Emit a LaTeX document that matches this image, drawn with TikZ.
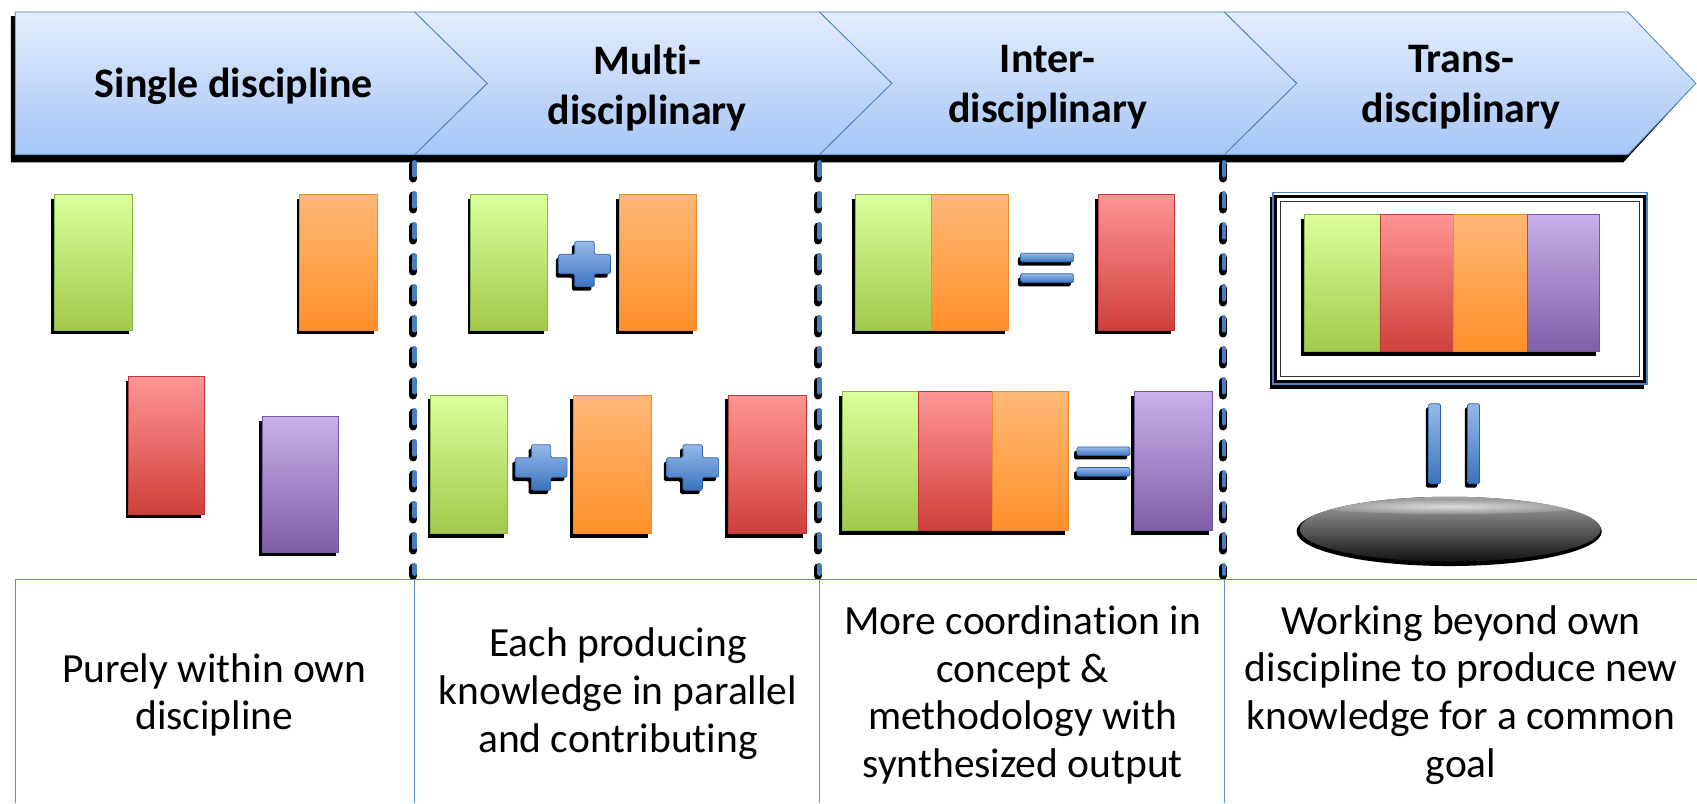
\documentclass[tikz,border=0pt]{standalone}
\usepackage{fontspec}
\setmainfont{Carlito}[Ligatures=NoCommon]
\definecolor{greenT}{HTML}{DAFF9A}\definecolor{greenB}{HTML}{A2C84C}\definecolor{greenD}{HTML}{8DB544}
\definecolor{orangeT}{HTML}{FFB877}\definecolor{orangeB}{HTML}{FF9029}\definecolor{orangeD}{HTML}{F08A2A}
\definecolor{redT}{HTML}{FF9595}\definecolor{redB}{HTML}{CF3F3B}\definecolor{redD}{HTML}{BE3A38}
\definecolor{purpT}{HTML}{C8B0EA}\definecolor{purpB}{HTML}{7F5EA8}\definecolor{purpD}{HTML}{7458A0}
\definecolor{chevT}{HTML}{E3EDFC}\definecolor{chevB}{HTML}{A6C5F6}\definecolor{chevD}{HTML}{4F81BD}
\definecolor{blueT}{HTML}{95BAEA}\definecolor{blueB}{HTML}{3B73BF}\definecolor{blueD}{HTML}{2F5F9E}
\definecolor{tblue}{HTML}{5B8BD0}
\definecolor{dashblue}{HTML}{4A7CC0}
\tikzset{
  headtxt/.style={align=center, font=\fontsize{42}{50}\selectfont\bfseries},
  bodytxt/.style={align=center, font=\fontsize{41.5}{47.6}\selectfont},
  shadowfill/.style={fill=black},
}
\newcommand\blk[5]{%
  \fill[shadowfill, shift={(-3,4)}] (#1,#2) rectangle (#3,#4);
  \shadedraw[top color=#5T, bottom color=#5B, draw=#5D, line width=0.8pt] (#1,#2) rectangle (#3,#4);
}
\newcommand\grpshadow[4]{\fill[shadowfill, shift={(-3,4)}] (#1,#2) rectangle (#3,#4);}
\newcommand\blkns[5]{%
  \shadedraw[top color=#5T, bottom color=#5B, draw=#5D, line width=0.8pt] (#1,#2) rectangle (#3,#4);
}
\newcommand\plusmark[2]{%
  \begin{scope}[shift={(#1,#2)}]
  \fill[shadowfill, shift={(-2.5,3.5)}, rounded corners=1.5pt] (-9,-21) -- (9,-21) -- (9,-9) -- (24,-9) -- (24,9) -- (9,9) -- (9,21) -- (-9,21) -- (-9,9) -- (-24,9) -- (-24,-9) -- (-9,-9) -- cycle;
  \shadedraw[top color=blueT, bottom color=blueB, draw=blueD, line width=0.7pt, rounded corners=1.5pt] (-9,-21) -- (9,-21) -- (9,-9) -- (24,-9) -- (24,9) -- (9,9) -- (9,21) -- (-9,21) -- (-9,9) -- (-24,9) -- (-24,-9) -- (-9,-9) -- cycle;
  \end{scope}}
\newcommand\eqbar[4]{%
  \fill[shadowfill, shift={(-2.5,3.5)}, rounded corners=1.5pt] (#1,#2) rectangle (#3,#4);
  \shadedraw[top color=blueT, bottom color=blueB, draw=blueD, line width=0.7pt, rounded corners=1.5pt] (#1,#2) rectangle (#3,#4);
}
\begin{document}
\begin{tikzpicture}[x=1.0823pt,y=-1.0823pt]
\useasboundingbox (0,0) rectangle (1568,742);
% ---------- chevron band ----------
\fill[shadowfill] (10,15) -- (1500,15) -- (1563,81) -- (1500,150) -- (10,150) -- cycle;
\shadedraw[top color=chevT, bottom color=chevB, draw=chevD, line width=0.8pt]
  (1131,11) -- (1504,11) -- (1567,77) -- (1504,143) -- (1131,143) -- (1198,77) -- cycle;
\shadedraw[top color=chevT, bottom color=chevB, draw=chevD, line width=0.8pt]
  (757,11) -- (1131,11) -- (1198,77) -- (1131,143) -- (757,143) -- (824,77) -- cycle;
\shadedraw[top color=chevT, bottom color=chevB, draw=chevD, line width=0.8pt]
  (383,11) -- (757,11) -- (824,77) -- (757,143) -- (383,143) -- (450,77) -- cycle;
\shadedraw[top color=chevT, bottom color=chevB, draw=chevD, line width=0.8pt]
  (14,11) -- (383,11) -- (450,77) -- (383,143) -- (14,143) -- cycle;
\node[headtxt] (h1) at (216,80) {Single discipline};
\node[headtxt] (h2) at (598,81) {Multi-\\disciplinary};
\node[headtxt] (h3) at (968,81) {Inter-\\disciplinary};
\node[headtxt] (h4) at (1350,81) {Trans-\\disciplinary};
% ---------- dashed separators ----------
\foreach \xx in {383,757,1131}{
  \draw[black, line width=8pt, dash pattern=on 14pt off 17pt, line cap=round] (\xx-1,152) -- (\xx-1,532);
  \draw[dashblue, line width=4.5pt, dash pattern=on 13pt off 18pt, line cap=round] (\xx,150) -- (\xx,530);
}
% ---------- column 1 ----------
\blk{50}{180}{122}{305}{green}
\blk{277}{180}{349}{305}{orange}
\blk{119}{348}{189}{475}{red}
\blk{242}{385}{313}{510}{purp}
% ---------- column 2 ----------
\blk{435}{180}{506}{305}{green}
\blk{572}{180}{643}{305}{orange}
\plusmark{540}{244}
\blk{398}{365}{469}{493}{green}
\blk{530}{365}{602}{493}{orange}
\blk{673}{365}{745}{493}{red}
\plusmark{500}{432}
\plusmark{640}{432}
% ---------- column 3 ----------
\grpshadow{790}{180}{932}{305}
\blkns{790}{180}{861}{305}{green}
\blkns{861}{180}{932}{305}{orange}
\eqbar{943}{234}{992}{242}
\eqbar{943}{253}{992}{261}
\blk{1015}{180}{1085}{305}{red}
\grpshadow{778}{362}{987}{490}
\blkns{778}{362}{849}{490}{green}
\blkns{849}{362}{917}{490}{red}
\blkns{917}{362}{987}{490}{orange}
\eqbar{995}{413}{1044}{421}
\eqbar{995}{432}{1044}{440}
\blk{1048}{362}{1120}{490}{purp}
% ---------- column 4 ----------
\fill[shadowfill, shift={(-3,4)}] (1176,178) rectangle (1522,355);
\fill[white] (1176,178) rectangle (1522,355);
\draw[black, line width=3.5pt] (1178.5,181.5) rectangle (1519.5,352.5);
\draw[chevD, line width=1.5pt] (1176,178) rectangle (1522,355);
\draw[black!80, line width=0.8pt] (1183,186) rectangle (1515,348);
\grpshadow{1205}{198}{1478}{325}
\blkns{1205}{198}{1275}{325}{green}
\blkns{1275}{198}{1343}{325}{red}
\blkns{1343}{198}{1411}{325}{orange}
\blkns{1411}{198}{1478}{325}{purp}
\eqbar{1320}{373}{1331}{447}
\eqbar{1356}{373}{1367}{447}
\fill[black] (1339,491) ellipse [x radius=141, y radius=32];
\shade[top color=black!35, middle color=black!58, bottom color=black!93] (1340,489) ellipse [x radius=139, y radius=30];
\begin{scope}
  \clip (1340,489) ellipse [x radius=139, y radius=30];
  \shade[inner color=white, outer color=black!40, opacity=0.7] (1340,468) ellipse [x radius=125, y radius=7];
\end{scope}
% ---------- table ----------
\draw[tblue, line width=1pt] (14,742) -- (14,535) -- (1568,535);
\foreach \xx in {383,757,1131}{\draw[tblue, line width=1pt] (\xx,535) -- (\xx,742);}
\node[bodytxt] (t1) at (198,642) {Purely within own\\discipline};
\node[bodytxt] (t2) at (571,641) {Each producing\\knowledge in parallel\\and contributing};
\node[bodytxt] (t3) at (945,642) {More coordination in\\concept \&\\methodology with\\synthesized output};
\node[bodytxt] (t4) at (1350,642) {Working beyond own\\discipline to produce new\\knowledge for a common\\goal};
\end{tikzpicture}
\end{document}
